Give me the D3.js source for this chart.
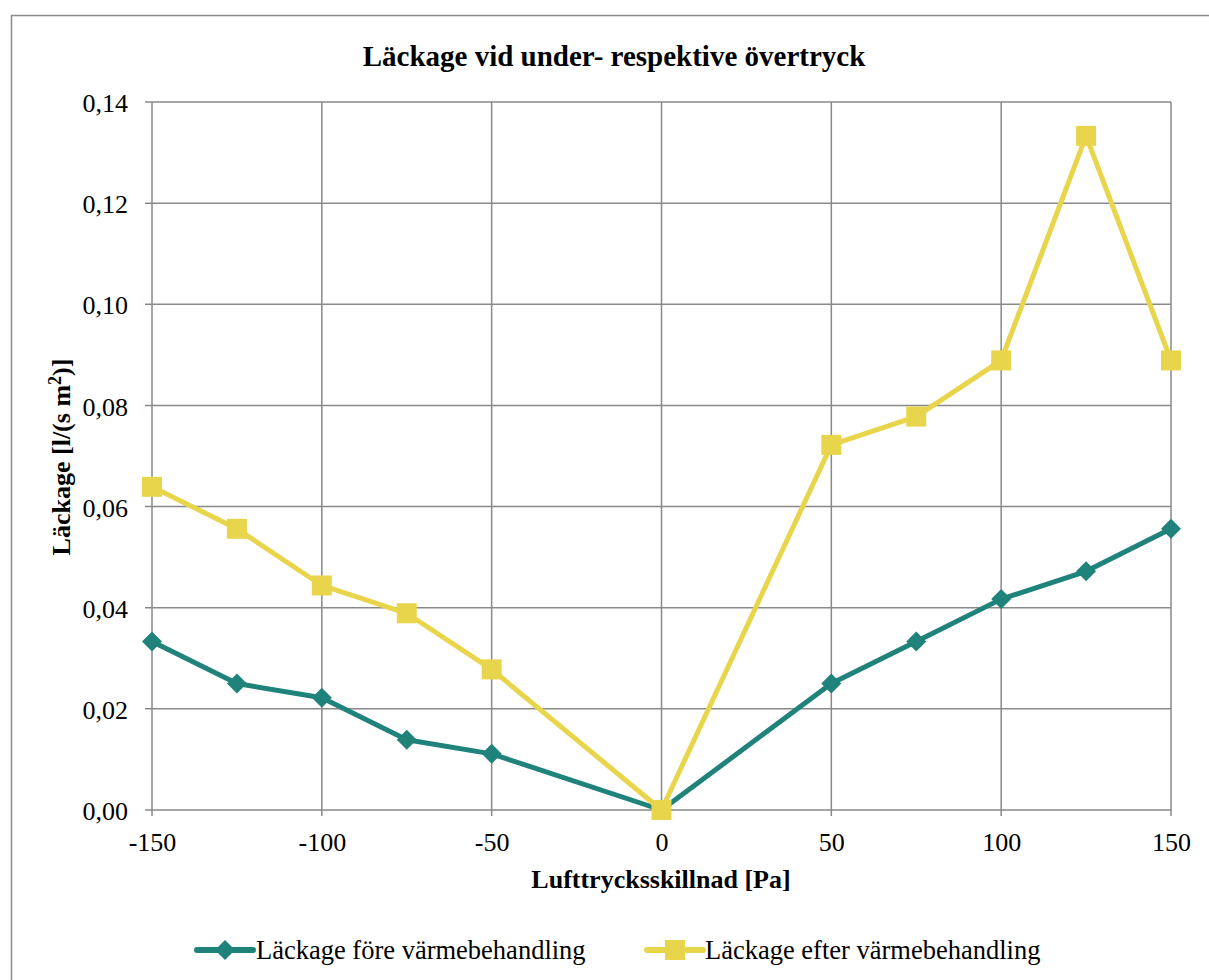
<!DOCTYPE html>
<html><head><meta charset="utf-8">
<script src="https://cdn.jsdelivr.net/npm/d3@7"></script>
<style>body{margin:0;background:#fff}svg{display:block}text{font-family:"Liberation Serif","Times New Roman",serif;fill:#000}</style>
</head><body>
<svg id="c" width="1209" height="980"></svg>
<script>
const pressure = [-150,-125,-100,-75,-50,0,50,75,100,125,150];
const fore  = [0.0333,0.0250,0.0222,0.0139,0.0111,0.0000,0.0250,0.0333,0.0417,0.0472,0.0556];
const efter = [0.0639,0.0556,0.0444,0.0389,0.0278,0.0000,0.0722,0.0778,0.0889,0.1333,0.0889];
const xTicks = [-150,-100,-50,0,50,100,150];
const yTicks = [0,0.02,0.04,0.06,0.08,0.10,0.12,0.14];
const seriesNames = ["Läckage före värmebehandling","Läckage efter värmebehandling"];
const colors = ["#1f837b","#e9d54b"];

const svg = d3.select("#c");
const L=152,R=1171,T=102,B=810;
const x = d3.scaleLinear().domain([-150,150]).range([L,R]);
const y = d3.scaleLinear().domain([0,0.14]).range([B,T]);
const fmt = v => d3.format(".2f")(v).replace(".",",");
const FF = "Liberation Serif";

svg.append("rect").attr("x",11.5).attr("y",15.5).attr("width",1220).attr("height",1000)
  .attr("fill","#fff").attr("stroke","#8c8c8c").attr("stroke-width",1.5);

// grid
svg.append("g").selectAll("line").data(xTicks).join("line")
  .attr("x1",d=>x(d)).attr("x2",d=>x(d)).attr("y1",T).attr("y2",B+6)
  .attr("stroke","#898989").attr("stroke-width",1.5);
svg.append("g").selectAll("line").data(yTicks).join("line")
  .attr("x1",L-7).attr("x2",R).attr("y1",d=>y(d)).attr("y2",d=>y(d))
  .attr("stroke","#898989").attr("stroke-width",1.5);

// axes labels via d3 axes
const ax = svg.append("g").attr("transform",`translate(0,${B})`)
  .call(d3.axisBottom(x).tickValues(xTicks).tickSize(0).tickPadding(0).tickFormat(d=>d));
ax.select(".domain").remove();
ax.selectAll("text").attr("font-size",26).attr("font-family",FF).attr("fill","#000").attr("y",41).attr("dy",0);
const ay = svg.append("g").attr("transform",`translate(${L},0)`)
  .call(d3.axisLeft(y).tickValues(yTicks).tickSize(0).tickPadding(24).tickFormat(fmt));
ay.select(".domain").remove();
ay.selectAll("text").attr("font-size",26).attr("font-family",FF).attr("fill","#000").attr("dy","0.37em");

// titles
svg.append("text").attr("x",614).attr("y",66).attr("text-anchor","middle")
  .attr("font-size",29).attr("font-weight","bold").text("Läckage vid under- respektive övertryck");
svg.append("text").attr("x",661).attr("y",888).attr("text-anchor","middle")
  .attr("font-size",26).attr("font-weight","bold").text("Lufttrycksskillnad [Pa]");
const yl = svg.append("text").attr("transform","translate(70,457) rotate(-90)").attr("text-anchor","middle")
  .attr("font-size",26).attr("font-weight","bold");
yl.append("tspan").text("Läckage [l/(s m");
yl.append("tspan").attr("font-size",18).attr("dy",-9).text("2");
yl.append("tspan").attr("dy",9).text(")]");

const line = d3.line().x(d=>x(d[0])).y(d=>y(d[1]));
const data = [pressure.map((p,i)=>[p,fore[i]]), pressure.map((p,i)=>[p,efter[i]])];
const diamond = (g,cx,cy,s,c)=>g.append("path").attr("d",`M${cx},${cy-s}L${cx+s},${cy}L${cx},${cy+s}L${cx-s},${cy}Z`).attr("fill",c);
const square = (g,cx,cy,s,c)=>g.append("rect").attr("x",cx-s).attr("y",cy-s).attr("width",2*s).attr("height",2*s).attr("fill",c);

data.forEach((d,i)=>{
  const g = svg.append("g");
  g.append("path").attr("d",line(d)).attr("fill","none").attr("stroke",colors[i]).attr("stroke-width",5).attr("stroke-linejoin","round");
  d.forEach(p=>{
    if(i===0) diamond(g,x(p[0]),y(p[1]),10,colors[i]);
    else square(g,x(p[0]),y(p[1]),10,colors[i]);
  });
});

// legend
const leg = [{x0:197,tx:256},{x0:647,tx:705}];
leg.forEach((l,i)=>{
  const g = svg.append("g");
  g.append("line").attr("x1",l.x0).attr("x2",l.x0+56).attr("y1",950).attr("y2",950)
    .attr("stroke",colors[i]).attr("stroke-width",6).attr("stroke-linecap","round");
  if(i===0) diamond(g,l.x0+28,950,10,colors[i]); else square(g,l.x0+28,950,10,colors[i]);
  g.append("text").attr("x",l.tx).attr("y",959).attr("font-size",26.5).text(seriesNames[i]);
});
</script>
</body></html>
